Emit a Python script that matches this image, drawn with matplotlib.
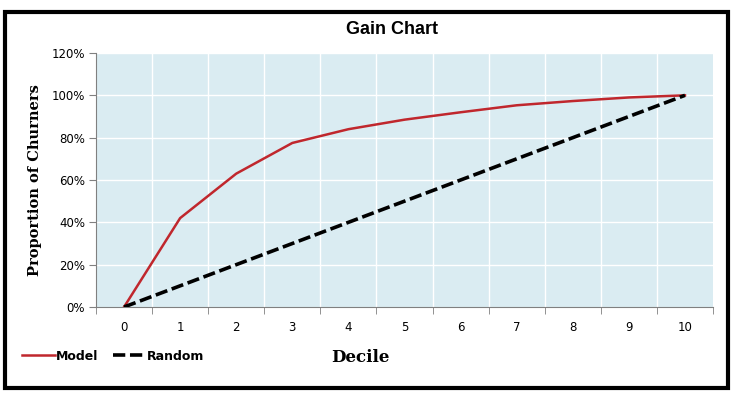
import numpy as np
import matplotlib.pyplot as plt
import matplotlib.patches as mpatches
from matplotlib.ticker import FuncFormatter

# data
deciles = [0, 1, 2, 3, 4, 5, 6, 7, 8, 9, 10]
model = [0, 42, 63, 77.5, 84, 88.5, 92, 95.3, 97.3, 99, 100]
random_line = [0, 10, 20, 30, 40, 50, 60, 70, 80, 90, 100]
y_ticks = [0, 20, 40, 60, 80, 100, 120]

fig = plt.figure(figsize=(7.35, 4.0), dpi=100)
ax = fig.add_axes([0.1306, 0.2325, 0.8395, 0.635])

ax.set_facecolor('#DAECF2')
ax.plot(deciles, model, color='#C0272D', lw=1.8, label='Model', zorder=3)
ax.plot(deciles, random_line, color='black', lw=2.6, ls=(0, (3.4, 1.3)), label='Random', zorder=3)

ax.set_xlim(-0.5, 10.5)
ax.set_ylim(0, 120)
ax.set_yticks(y_ticks)
ax.yaxis.set_major_formatter(FuncFormatter(lambda v, p: '%d%%' % v))
ax.set_xticks(deciles)
ax.set_xticks(np.arange(-0.5, 11, 1), minor=True)
ax.tick_params(axis='x', which='major', length=0, pad=10, labelsize=8.5)
ax.tick_params(axis='x', which='minor', length=5, color='#808080', direction='out')
ax.tick_params(axis='y', length=5, color='#808080', labelsize=8.5, pad=3)

ax.grid(False)
for v in y_ticks[1:]:
    ax.axhline(v, color='white', lw=1, zorder=1)
for v in np.arange(0.5, 10, 1):
    ax.axvline(v, color='white', lw=1, zorder=1)

for s in ['top', 'right']:
    ax.spines[s].set_visible(False)
ax.spines['left'].set_color('#808080')
ax.spines['bottom'].set_color('#808080')

ax.set_ylabel('Proportion of Churners', family='DejaVu Serif', fontweight='bold', fontsize=10.5, labelpad=7)
fig.text(0.49, 0.105, 'Decile', family='DejaVu Serif', fontweight='bold', fontsize=12, ha='center', va='center')
fig.text(0.533, 0.925, 'Gain Chart', family='Liberation Sans', fontweight='bold', fontsize=13,
         ha='center', va='center')

leg = fig.legend(loc='center left', bbox_to_anchor=(0.015, 0.11), ncol=2, frameon=False,
                 handlelength=2.6, handletextpad=0.1, columnspacing=1.2,
                 prop={'weight': 'bold', 'size': 9})

fig.patches.append(mpatches.Rectangle((0.007, 0.03), 0.983, 0.94, transform=fig.transFigure,
                                      fill=False, edgecolor='black', lw=3))

fig.savefig('out.png', dpi=100)
